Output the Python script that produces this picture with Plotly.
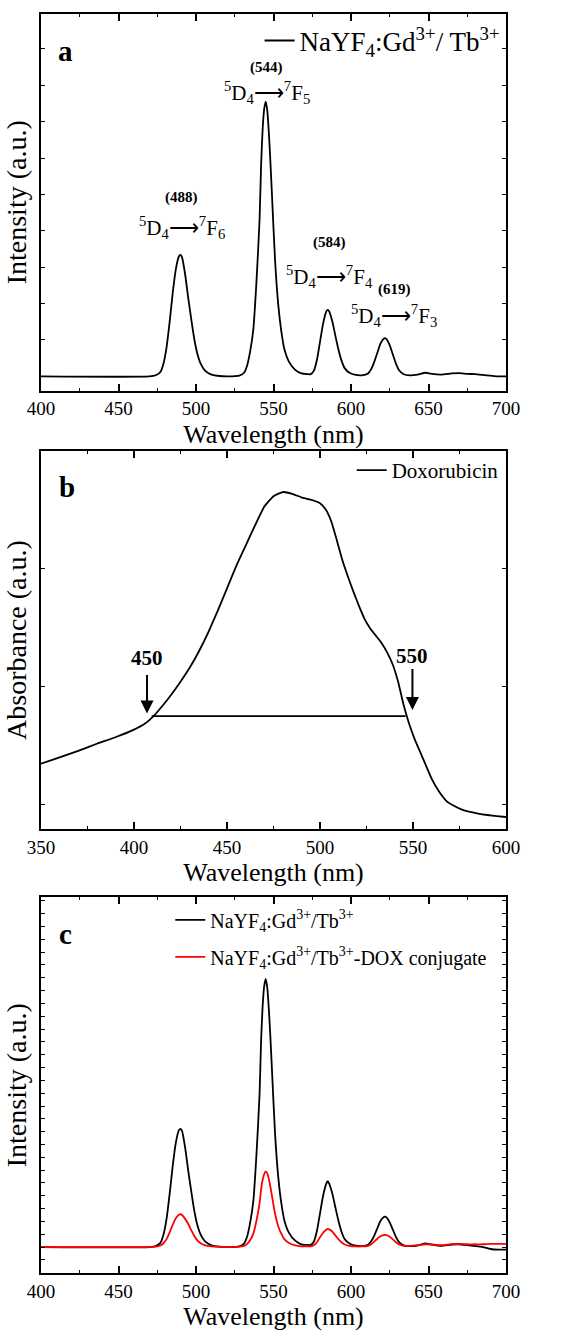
import plotly.graph_objects as go

FONT = "Liberation Serif, Times New Roman, serif"

# ---------------- Panel a : emission of NaYF4:Gd/Tb ----------------
a_wl = [400, 470, 474, 477, 479, 481, 483, 485, 487, 489, 490, 491, 493, 495, 497, 499, 501, 503, 506, 510,
        515, 520, 528, 531, 533, 535, 537, 539, 541, 542, 543, 544, 545, 546, 547, 548, 549, 551, 553, 555,
        557, 560, 564, 568, 572, 574, 576, 578, 580, 582, 584, 585, 586, 588, 590, 592, 594, 596, 599, 603,
        607, 611, 613, 615, 617, 619, 621, 622, 623, 625, 627, 629, 631, 634, 638, 643, 648, 652, 658, 665,
        670, 675, 680, 685, 690, 695, 700]
a_int = [0.0, 0.0, 0.03, 0.12, 0.35, 0.8, 1.5, 2.3, 2.95, 3.3, 3.34, 3.27, 2.8, 2.15, 1.55, 1.0, 0.6, 0.35, 0.15, 0.05,
         0.01, 0.0, 0.02, 0.1, 0.3, 0.7, 1.3, 2.6, 4.3, 5.8, 6.8, 7.35, 7.55, 7.3, 6.7, 5.9, 5.0, 3.2, 2.0, 1.25,
         0.75, 0.4, 0.18, 0.08, 0.06, 0.06, 0.15, 0.45, 0.95, 1.45, 1.78, 1.83, 1.78, 1.5, 1.1, 0.72, 0.42, 0.22, 0.1, 0.04,
         0.03, 0.08, 0.2, 0.4, 0.65, 0.9, 1.03, 1.05, 1.02, 0.85, 0.6, 0.35, 0.17, 0.06, 0.03, 0.05, 0.1, 0.07, 0.05, 0.08,
         0.09, 0.07, 0.06, 0.04, 0.02, 0.0, 0.0]

a_peak_wl = [490.8, 545.6, 586.0, 628.0]
a_peak_lbl = ["(488)", "(544)", "(584)", "(619)"]
a_trans_lbl = ["<sup>5</sup>D<sub>4</sub>\u27f6<sup>7</sup>F<sub>6</sub>",
               "<sup>5</sup>D<sub>4</sub>\u27f6<sup>7</sup>F<sub>5</sub>",
               "<sup>5</sup>D<sub>4</sub>\u27f6<sup>7</sup>F<sub>4</sub>",
               "<sup>5</sup>D<sub>4</sub>\u27f6<sup>7</sup>F<sub>3</sub>"]
a_num_y = [4.92, 8.48, 3.68, 2.40]
a_trans_y = [4.10, 7.80, 2.75, 1.68]

# ---------------- Panel b : absorbance of doxorubicin ----------------
b_wl = [350, 360, 370, 380, 390, 400, 405, 410, 415, 420, 425, 430, 435, 440, 445, 450, 455, 460, 465, 470,
        475, 480, 485, 490, 495, 500, 503, 506, 509, 512, 515, 518, 521, 524, 527, 530, 533, 536, 539, 542,
        545, 548, 551, 554, 557, 560, 564, 568, 572, 576, 580, 585, 590, 595, 600]
b_abs = [0.346, 0.40, 0.455, 0.515, 0.57, 0.635, 0.675, 0.74, 0.83, 0.93, 1.04, 1.16, 1.30, 1.46, 1.64, 1.83,
         2.02, 2.19, 2.36, 2.52, 2.61, 2.645, 2.63, 2.60, 2.58, 2.55, 2.50, 2.40, 2.24, 2.07, 1.93, 1.80, 1.68,
         1.57, 1.49, 1.43, 1.37, 1.29, 1.19, 1.04, 0.84, 0.68, 0.55, 0.44, 0.33, 0.22, 0.11, 0.03, -0.01, -0.04,
         -0.06, -0.076, -0.088, -0.097, -0.105]
b_band_wl = [409.5, 546]
b_band_abs = [0.748, 0.748]
b_mark_wl = [407.0, 549.7]
b_mark_lbl = ["450", "550"]
b_mark_top = [1.11, 1.16]
b_mark_tip = [0.77, 0.80]
b_mark_text_y = [1.24, 1.26]

# ---------------- Panel c : emission before / after DOX conjugation ----------------
c_wl = list(a_wl)
c_host = [0.0, 0.0, 0.08, 0.33, 0.97, 2.2, 4.15, 6.35, 8.15, 9.12, 9.22, 9.05, 7.75, 5.95, 4.3, 2.77, 1.66, 0.97, 0.42, 0.14,
          0.03, 0.0, 0.05, 0.28, 0.83, 1.94, 3.6, 7.2, 11.9, 16.1, 18.8, 20.35, 20.9, 20.2, 18.55, 16.35, 13.85, 8.85, 5.55, 3.46,
          2.08, 1.11, 0.5, 0.22, 0.17, 0.17, 0.42, 1.25, 2.63, 4.0, 4.93, 5.14, 4.93, 4.15, 3.05, 2.0, 1.16, 0.61, 0.28, 0.11,
          0.08, 0.18, 0.45, 0.9, 1.47, 2.03, 2.33, 2.37, 2.3, 1.92, 1.36, 0.79, 0.38, 0.14, 0.07, 0.12, 0.28, 0.2, 0.1, 0.2,
          0.22, 0.15, 0.08, 0.0, -0.15, -0.2, -0.2]
c_dox = [0.0, 0.0, 0.03, 0.12, 0.3, 0.62, 1.15, 1.75, 2.25, 2.52, 2.56, 2.5, 2.2, 1.8, 1.3, 0.85, 0.5, 0.3, 0.13, 0.05,
         0.01, 0.0, 0.03, 0.1, 0.25, 0.55, 1.05, 2.05, 3.4, 4.5, 5.25, 5.7, 5.91, 5.75, 5.3, 4.7, 4.0, 2.6, 1.65, 1.05,
         0.62, 0.32, 0.14, 0.06, 0.05, 0.06, 0.14, 0.38, 0.76, 1.12, 1.36, 1.42, 1.38, 1.2, 0.9, 0.6, 0.36, 0.2, 0.1, 0.05,
         0.05, 0.1, 0.22, 0.42, 0.65, 0.85, 0.94, 0.95, 0.93, 0.8, 0.6, 0.38, 0.2, 0.1, 0.1, 0.15, 0.22, 0.2, 0.15, 0.22,
         0.25, 0.22, 0.22, 0.22, 0.25, 0.25, 0.25]

fig = go.Figure()
ln = dict(color="black", width=1.8, shape="spline", smoothing=0.6)

fig.add_trace(go.Scatter(x=a_wl, y=a_int, mode="lines", line=ln, xaxis="x", yaxis="y", legend="legend",
                         name="NaYF<sub>4</sub>:Gd<sup>3+</sup>/ Tb<sup>3+</sup>"))
fig.add_trace(go.Scatter(x=b_wl, y=b_abs, mode="lines", line=dict(color="black", width=1.8, shape="spline", smoothing=0.4),
                         xaxis="x2", yaxis="y2", legend="legend2", name="Doxorubicin"))
fig.add_trace(go.Scatter(x=b_band_wl, y=b_band_abs, mode="lines", line=dict(color="black", width=1.8),
                         xaxis="x2", yaxis="y2", showlegend=False))
fig.add_trace(go.Scatter(x=c_wl, y=c_host, mode="lines", line=ln, xaxis="x3", yaxis="y3", legend="legend3",
                         legendgroup="g1", name="NaYF<sub>4</sub>:Gd<sup>3+</sup>/Tb<sup>3+</sup>"))
fig.add_trace(go.Scatter(x=c_wl, y=c_dox, mode="lines", line=dict(color="#ff0000", width=1.8, shape="spline", smoothing=0.6),
                         xaxis="x3", yaxis="y3", legend="legend3", legendgroup="g2",
                         name="NaYF<sub>4</sub>:Gd<sup>3+</sup>/Tb<sup>3+</sup>-DOX conjugate"))


def xax(rng, anchor):
    return dict(range=rng, anchor=anchor, showline=True, linecolor="black", linewidth=2, mirror="ticks",
                ticks="inside", ticklen=7, tickwidth=1.5, tickcolor="black", tickmode="linear", dtick=50,
                tick0=0, minor=dict(ticks="inside", ticklen=3, tickwidth=1, tickcolor="black", dtick=25),
                showgrid=False, zeroline=False, tickfont=dict(family=FONT, size=19, color="black"),
                title=dict(text="Wavelength (nm)", font=dict(family=FONT, size=26, color="black"), standoff=6))


def yax(rng, anchor, dom, title, dt=1):
    return dict(range=rng, anchor=anchor, domain=dom, showline=True, linecolor="black", linewidth=2,
                mirror="ticks", ticks="inside", ticklen=4, tickwidth=1, tickcolor="black", tickmode="linear",
                tick0=0, dtick=dt, showticklabels=False, showgrid=False, zeroline=False,
                title=dict(text=title, font=dict(family=FONT, size=28, color="black"), standoff=4))


leg_common = dict(bgcolor="rgba(0,0,0,0)", borderwidth=0)

fig.update_layout(
    width=581, height=1338,
    margin=dict(l=41, r=75, t=14, b=60),
    paper_bgcolor="white", plot_bgcolor="white",
    font=dict(family=FONT, color="black"),
    xaxis=xax([400, 700], "y"),
    yaxis=yax([-0.39, 9.96], "x", [0.7009, 1.0], "Intensity (a.u.)"),
    xaxis2=xax([350, 600], "y2"),
    yaxis2=yax([-0.205, 2.99], "x2", [0.3528, 0.6527], "Absorbance (a.u.)"),
    xaxis3=xax([400, 700], "y3"),
    yaxis3=yax([-2.02, 27.26], "x3", [0.0, 0.2983], "Intensity (a.u.)"),
    legend=dict(x=0.997, xanchor="right", y=0.9786, yanchor="middle",
                font=dict(family=FONT, size=27, color="black"), **leg_common),
    legend2=dict(x=0.995, xanchor="right", y=0.6374, yanchor="middle",
                 font=dict(family=FONT, size=21, color="black"), **leg_common),
    legend3=dict(x=0.278, xanchor="left", y=0.296, yanchor="top", tracegroupgap=8,
                 font=dict(family=FONT, size=20, color="black"), **leg_common),
)

ann = []
# panel letters
ann.append(dict(x=415.9, y=8.93, xref="x", yref="y", text="<b>a</b>", showarrow=False,
                font=dict(family=FONT, size=29, color="black")))
ann.append(dict(x=364, y=2.69, xref="x2", yref="y2", text="<b>b</b>", showarrow=False,
                font=dict(family=FONT, size=29, color="black")))
ann.append(dict(x=415.9, y=24.4, xref="x3", yref="y3", text="<b>c</b>", showarrow=False,
                font=dict(family=FONT, size=29, color="black")))
# peak assignments (panel a)
for wl, lbl, ny, tl, ty in zip(a_peak_wl, a_peak_lbl, a_num_y, a_trans_lbl, a_trans_y):
    ann.append(dict(x=wl, y=ny, xref="x", yref="y", text="<b>%s</b>" % lbl, showarrow=False,
                    font=dict(family=FONT, size=15, color="black")))
    ann.append(dict(x=wl, y=ty, xref="x", yref="y", text=tl, showarrow=False,
                    font=dict(family=FONT, size=21, color="black")))
# band edges (panel b)
for wl, lbl, top, tip, ty in zip(b_mark_wl, b_mark_lbl, b_mark_top, b_mark_tip, b_mark_text_y):
    ann.append(dict(x=wl, y=ty, xref="x2", yref="y2", text="<b>%s</b>" % lbl, showarrow=False,
                    font=dict(family=FONT, size=21, color="black")))
    ann.append(dict(x=wl, y=tip, ax=wl, ay=top, xref="x2", yref="y2", axref="x2", ayref="y2", text="",
                    showarrow=True, arrowhead=2, arrowsize=1.3, arrowwidth=2, arrowcolor="black"))
fig.update_layout(annotations=ann)

fig.write_html("out.html")
